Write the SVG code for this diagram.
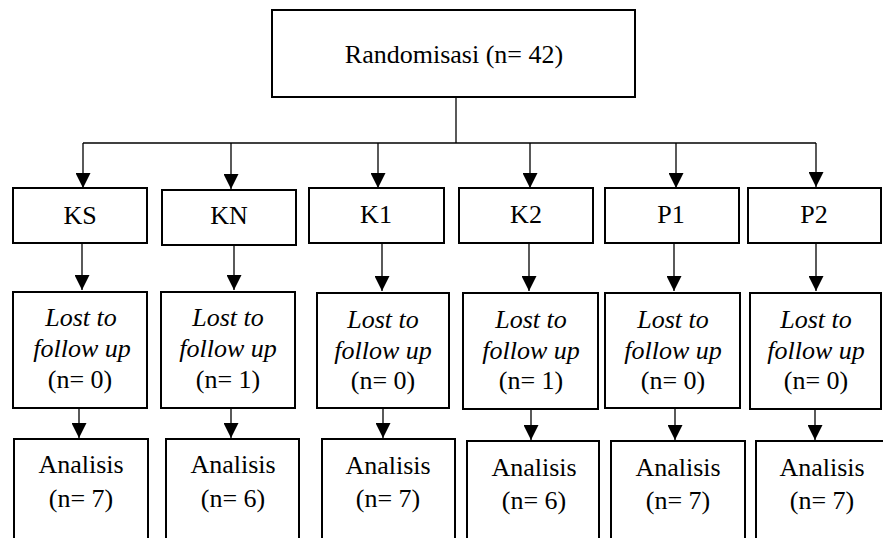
<svg xmlns="http://www.w3.org/2000/svg" width="883" height="538" viewBox="0 0 883 538">
  <style>
    .box { fill: #ffffff; stroke: #000000; stroke-width: 2; }
    .wire { fill: none; stroke: #000000; stroke-width: 1.3; }
    .arrow { fill: none; stroke: #000000; stroke-width: 1.3; marker-end: url(#head); }
    .lbl { font-size: 26px; fill: #000000; text-anchor: middle; }
    .it { font-style: italic; }
  </style>
  <defs>
    <marker id="head" markerUnits="userSpaceOnUse" markerWidth="15" markerHeight="15" refX="15" refY="7.5" orient="auto">
      <path d="M0,0 L15,7.5 L0,15 z" fill="#000000"/>
    </marker>
  </defs>

  <rect width="883" height="538" fill="#ffffff"/>

  <!-- connectors -->
  <g id="connectors">
    <line class="wire" x1="456" y1="97" x2="456" y2="143"/>
    <line class="wire" x1="83" y1="143" x2="816" y2="143"/>
    <line class="arrow" x1="83" y1="143" x2="83" y2="188"/>
    <line class="arrow" x1="231" y1="143" x2="231" y2="189"/>
    <line class="arrow" x1="378" y1="143" x2="378" y2="188"/>
    <line class="arrow" x1="530" y1="143" x2="530" y2="188"/>
    <line class="arrow" x1="676" y1="143" x2="676" y2="188"/>
    <line class="arrow" x1="816" y1="143" x2="816" y2="187"/>

    <line class="arrow" x1="82" y1="243" x2="82" y2="290"/>
    <line class="arrow" x1="234" y1="245" x2="234" y2="290"/>
    <line class="arrow" x1="382" y1="243" x2="382" y2="291"/>
    <line class="arrow" x1="529" y1="243" x2="529" y2="291"/>
    <line class="arrow" x1="674" y1="243" x2="674" y2="291"/>
    <line class="arrow" x1="816" y1="243" x2="816" y2="291"/>

    <line class="arrow" x1="79" y1="408" x2="79" y2="438"/>
    <line class="arrow" x1="231" y1="408" x2="231" y2="438"/>
    <line class="arrow" x1="383" y1="408" x2="383" y2="438"/>
    <line class="arrow" x1="531" y1="409" x2="531" y2="440"/>
    <line class="arrow" x1="675" y1="408" x2="675" y2="440"/>
    <line class="arrow" x1="815" y1="409" x2="815" y2="440"/>
  </g>

  <g font-family="Liberation Serif, DejaVu Serif, serif" class="lbl">
    <!-- randomisation -->
    <g id="randomisasi">
      <rect class="box" x="272" y="10" width="363" height="87"/>
      <text x="454" y="63">Randomisasi (n= 42)</text>
    </g>

    <!-- groups -->
    <g id="ks"><rect class="box" x="13" y="188" width="134" height="55"/><text x="80" y="224">KS</text></g>
    <g id="kn"><rect class="box" x="162" y="190" width="134" height="55"/><text x="229" y="224">KN</text></g>
    <g id="k1"><rect class="box" x="309" y="188" width="135" height="55"/><text x="376" y="223">K1</text></g>
    <g id="k2"><rect class="box" x="459" y="188" width="134" height="55"/><text x="526" y="223">K2</text></g>
    <g id="p1"><rect class="box" x="605" y="188" width="134" height="55"/><text x="671" y="223">P1</text></g>
    <g id="p2"><rect class="box" x="748" y="188" width="133" height="55"/><text x="814" y="223">P2</text></g>

    <!-- lost to follow up -->
    <g id="ks-lost">
      <rect class="box" x="13" y="292" width="134" height="116"/>
      <text class="it" x="81" y="326">Lost to</text>
      <text class="it" x="82" y="357">follow up</text>
      <text x="80" y="388">(n= 0)</text>
    </g>
    <g id="kn-lost">
      <rect class="box" x="161" y="292" width="134" height="116"/>
      <text class="it" x="228" y="326">Lost to</text>
      <text class="it" x="228" y="357">follow up</text>
      <text x="228" y="388">(n= 1)</text>
    </g>
    <g id="k1-lost">
      <rect class="box" x="317" y="293" width="132" height="115"/>
      <text class="it" x="383" y="328">Lost to</text>
      <text class="it" x="383" y="359">follow up</text>
      <text x="383" y="389">(n= 0)</text>
    </g>
    <g id="k2-lost">
      <rect class="box" x="463" y="293" width="135" height="116"/>
      <text class="it" x="531" y="328">Lost to</text>
      <text class="it" x="531" y="359">follow up</text>
      <text x="531" y="389">(n= 1)</text>
    </g>
    <g id="p1-lost">
      <rect class="box" x="605" y="293" width="135" height="115"/>
      <text class="it" x="673" y="328">Lost to</text>
      <text class="it" x="673" y="359">follow up</text>
      <text x="673" y="389">(n= 0)</text>
    </g>
    <g id="p2-lost">
      <rect class="box" x="750" y="293" width="131" height="116"/>
      <text class="it" x="816" y="328">Lost to</text>
      <text class="it" x="816" y="359">follow up</text>
      <text x="816" y="389">(n= 0)</text>
    </g>

    <!-- analysed -->
    <g id="ks-analisis">
      <rect class="box" x="14" y="439" width="134" height="120"/>
      <text x="81" y="473">Analisis</text>
      <text x="81" y="507">(n= 7)</text>
    </g>
    <g id="kn-analisis">
      <rect class="box" x="166" y="439" width="133" height="120"/>
      <text x="233" y="473">Analisis</text>
      <text x="233" y="507">(n= 6)</text>
    </g>
    <g id="k1-analisis">
      <rect class="box" x="322" y="439" width="133" height="120"/>
      <text x="388" y="474">Analisis</text>
      <text x="388" y="507">(n= 7)</text>
    </g>
    <g id="k2-analisis">
      <rect class="box" x="467" y="441" width="132" height="120"/>
      <text x="534" y="476">Analisis</text>
      <text x="534" y="509">(n= 6)</text>
    </g>
    <g id="p1-analisis">
      <rect class="box" x="611" y="441" width="134" height="120"/>
      <text x="678" y="476">Analisis</text>
      <text x="678" y="509">(n= 7)</text>
    </g>
    <g id="p2-analisis">
      <rect class="box" x="756" y="441" width="134" height="120"/>
      <text x="822" y="476">Analisis</text>
      <text x="822" y="509">(n= 7)</text>
    </g>
  </g>
</svg>
